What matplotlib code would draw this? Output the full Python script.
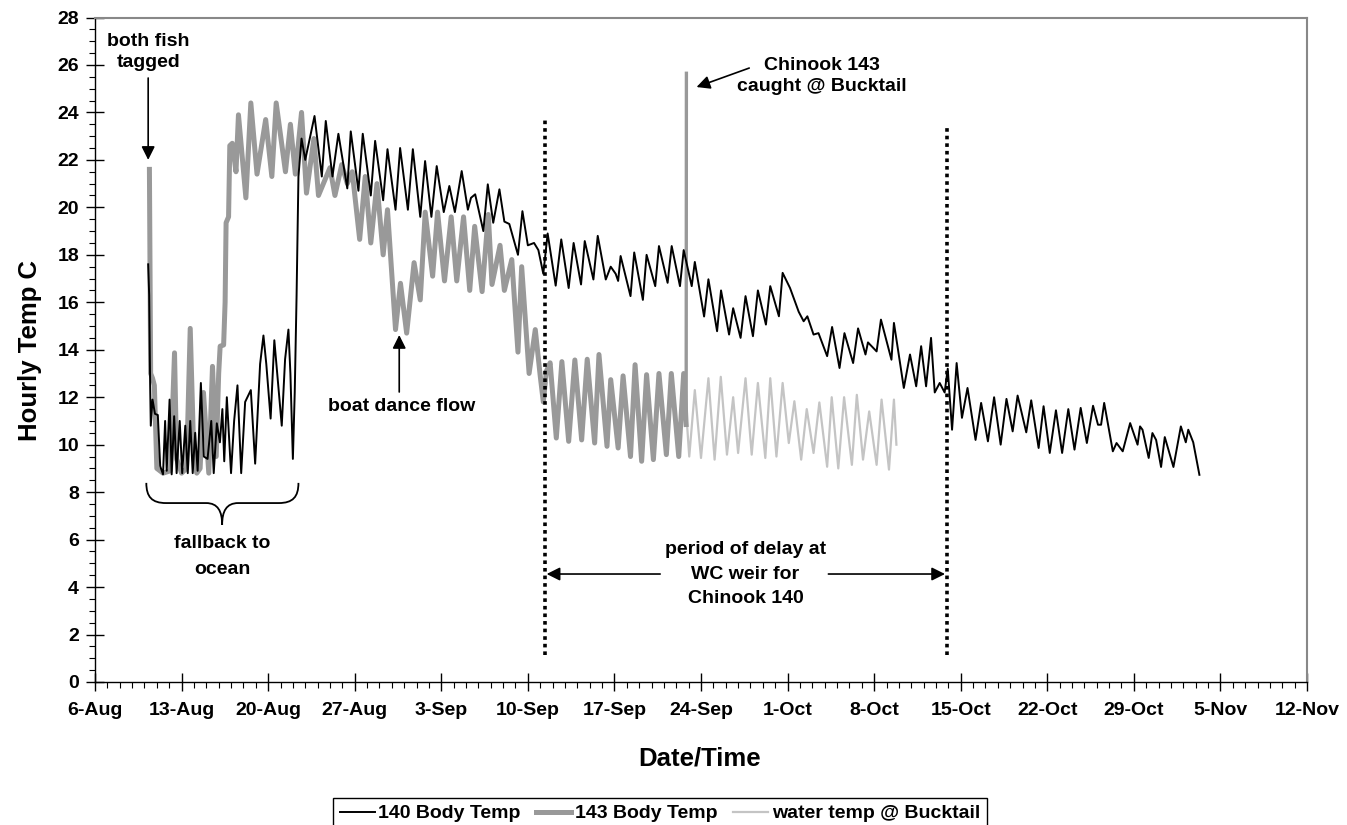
import datetime as dt
import matplotlib
matplotlib.use("Agg")
import matplotlib.pyplot as plt
from matplotlib.path import Path
from matplotlib.patches import PathPatch
from matplotlib.ticker import FixedLocator, MultipleLocator

plt.rcParams['font.family'] = ['Liberation Sans', 'DejaVu Sans']
plt.rcParams['font.weight'] = 'bold'

# ---- data: time in days after 6-Aug 00:00, temperature in deg C ----
start_date = dt.date(2003, 8, 6)

t140 = [4.30, 4.38, 4.46, 4.51, 4.65, 4.85, 5.08, 5.27, 5.50, 5.67, 5.80, 6.03, 6.20, 6.40, 6.60,
        6.85, 7.05, 7.30, 7.50, 7.70, 7.90, 8.10, 8.30, 8.56, 8.80, 9.10, 9.40, 9.60, 9.85, 10.10,
        10.30, 10.45, 10.66, 11.00, 11.25, 11.52, 11.82, 12.14, 12.60, 12.95, 13.35, 13.62, 13.85,
        14.20, 14.50, 14.78, 15.10, 15.37, 15.64, 15.80, 16.00, 16.15, 16.30, 16.45, 16.70, 17.00,
        17.75, 18.34, 18.66, 19.20, 19.68, 20.40, 20.68, 21.30, 21.65, 22.30, 22.65, 23.30, 23.65,
        24.30, 24.67, 25.30, 25.70, 26.30, 26.69, 27.20, 27.63, 28.20, 28.65, 29.10, 29.65, 30.15,
        30.40, 30.74, 31.40, 31.76, 32.20, 32.70, 33.10, 33.50, 34.20, 34.56, 35.00, 35.50, 35.85,
        36.25, 36.60, 37.25, 37.70, 38.30, 38.70, 39.30, 39.60, 40.30, 40.65, 41.30, 41.70, 42.10,
        42.30, 42.50, 43.30, 43.60, 44.30, 44.60, 45.30, 45.60, 46.30, 46.63, 47.30, 47.60, 48.25,
        48.50, 49.25, 49.60, 50.30, 50.62, 51.27, 51.60, 52.20, 52.60, 53.20, 53.60, 54.25, 54.60,
        55.30, 55.60, 56.20, 56.90, 57.30, 57.60, 58.10, 58.50, 59.20, 59.60, 60.20, 60.60, 61.30,
        61.70, 62.30, 62.50, 63.20, 63.55, 64.40, 64.60, 65.40, 65.90, 66.40, 66.80, 67.20, 67.60,
        67.90, 68.30, 68.70, 68.95, 69.30, 69.67, 70.10, 70.55, 71.20, 71.65, 72.20, 72.70, 73.23,
        73.70, 74.20, 74.60, 75.30, 75.70, 76.30, 76.70, 77.20, 77.70, 78.20, 78.70, 79.20, 79.70,
        80.20, 80.70, 81.10, 81.35, 81.60, 82.30, 82.60, 83.10, 83.70, 84.30, 84.50, 84.70, 85.20,
        85.50, 85.80, 86.20, 86.50, 87.20, 87.80, 88.20, 88.40, 88.80, 89.30]
v140 = [17.6, 16.3, 12.5, 10.8, 11.9, 11.3, 11.25, 9.1, 8.75, 11.0, 8.9, 11.9, 8.75, 11.2, 8.8,
        11.0, 8.8, 10.8, 8.8, 11.0, 8.8, 10.5, 8.9, 12.6, 9.5, 9.4, 11.0, 8.8, 10.9, 10.1,
        11.5, 9.3, 12.0, 8.8, 11.0, 12.5, 8.8, 11.8, 12.3, 9.2, 13.4, 14.6, 13.4,
        11.1, 14.4, 12.7, 10.8, 13.6, 14.85, 13.0, 9.4, 12.2, 16.3, 21.3, 22.9, 22.0,
        23.85, 21.3, 23.64, 21.3, 23.1, 20.8, 23.2, 20.7, 23.1, 20.5, 22.8, 20.3, 22.45,
        19.9, 22.5, 19.9, 22.45, 19.6, 21.95, 19.6, 21.74, 19.8, 20.9, 19.8, 21.53, 19.9,
        20.4, 20.55, 19.0, 20.97, 19.35, 20.76, 19.4, 19.3, 18.0, 19.84, 18.4, 18.5, 18.2,
        17.2, 18.9, 16.7, 18.65, 16.6, 18.5, 16.75, 18.58, 16.96, 18.8, 16.96, 17.5, 17.2,
        16.9, 17.95, 16.26, 18.1, 16.1, 18.0, 16.68, 18.37, 16.82, 18.37, 16.68, 18.2, 16.68,
        17.7, 15.4, 16.97, 14.78, 16.5, 14.64, 15.75, 14.5, 16.26, 14.57, 16.5, 15.06, 16.68,
        15.41, 17.24, 16.6, 15.6, 15.2, 15.41, 14.64, 14.7, 13.73, 14.96, 13.23, 14.7, 13.44,
        14.9, 13.8, 14.31, 13.93, 15.27, 13.58, 15.13, 12.39, 13.8, 12.46, 14.15, 12.46, 14.5,
        12.2, 12.6, 12.2, 13.2, 10.63, 13.44, 11.13, 12.39, 10.2, 11.76, 10.14, 12.0, 10.0,
        11.93, 10.56, 12.07, 10.52, 11.87, 9.86, 11.62, 9.65, 11.45, 9.65, 11.5, 9.79, 11.55,
        10.07, 11.64, 10.84, 10.84, 11.76, 9.72, 10.07, 9.72, 10.91, 10.0, 10.77, 10.63, 9.44,
        10.49, 10.2, 9.06, 10.32, 9.06, 10.77, 10.1, 10.63, 10.1, 8.73]

t143 = [4.40, 4.50, 4.65, 4.80, 5.00, 5.50, 6.10, 6.43, 6.60, 7.00, 7.40, 7.70, 8.00, 8.23, 8.50,
        8.77, 9.20, 9.50, 9.80, 10.00, 10.12, 10.40, 10.52, 10.60, 10.80, 10.90, 11.10, 11.40,
        11.60, 12.20, 12.60, 13.10, 13.80, 14.30, 14.65, 15.40, 15.80, 16.20, 16.70, 17.10, 17.70,
        18.07, 19.00, 19.40, 19.95, 20.40, 20.80, 21.40, 21.85, 22.30, 22.80, 23.30, 23.65, 24.30,
        24.70, 25.20, 25.80, 26.30, 26.70, 27.30, 27.70, 28.26, 28.80, 29.25, 29.80, 30.30, 30.70,
        31.30, 31.80, 32.10, 32.75, 33.10, 33.70, 34.20, 34.50, 35.10, 35.60, 36.00, 36.25, 36.50,
        36.80, 37.30, 37.75, 38.30, 38.80, 39.35, 39.80, 40.40, 40.75, 41.40, 41.70, 42.30, 42.70,
        43.30, 43.67, 44.20, 44.60, 45.15, 45.60, 46.20, 46.60, 47.20, 47.60, 47.80]
v143 = [21.6, 13.0, 12.8, 12.5, 9.0, 8.8, 8.9, 13.87, 9.4, 8.8, 9.0, 14.9, 9.4, 8.8, 9.0,
        12.2, 8.8, 13.3, 9.5, 13.0, 14.15, 14.2, 16.0, 19.35, 19.6, 22.6, 22.7, 21.5,
        23.9, 20.4, 24.4, 21.4, 23.7, 21.3, 24.4, 21.5, 23.5, 21.4, 24.0, 20.6, 22.9,
        20.5, 21.67, 20.5, 21.8, 21.0, 21.5, 18.65, 21.3, 18.5, 21.0, 18.0, 19.9, 14.85,
        16.8, 14.7, 17.67, 16.1, 19.8, 17.1, 19.8, 16.9, 19.6, 16.9, 19.6, 16.5, 19.2,
        16.45, 19.7, 16.75, 18.4, 16.5, 17.8, 13.9, 17.5, 13.0, 14.85, 12.9, 11.8, 13.1,
        13.45, 10.28, 13.5, 10.14, 13.57, 10.2, 13.6, 10.07, 13.8, 9.93, 12.74, 9.86, 12.9,
        9.5, 13.37, 9.3, 12.95, 9.37, 13.0, 9.58, 13.0, 9.5, 13.0, 10.85]

catch_t = 47.82   # Chinook 143 caught @ Bucktail
catch_v = 25.65

tw = [43.30, 43.67, 44.20, 44.60, 45.15, 45.60, 46.20, 46.60, 47.20, 47.60, 48.05, 48.50, 49.00,
      49.60, 50.10, 50.60, 51.10, 51.60, 52.00, 52.60, 53.10, 53.60, 54.20, 54.60, 55.10, 55.60,
      56.10, 56.55, 57.10, 57.55, 58.10, 58.57, 59.20, 59.57, 60.10, 60.57, 61.20, 61.60, 62.10,
      62.60, 63.20, 63.60, 64.20, 64.60, 64.80]
vw = [9.6, 12.9, 9.4, 12.8, 9.45, 12.9, 9.6, 12.9, 9.55, 12.9, 9.5, 12.3, 9.44,
      12.8, 9.37, 12.86, 9.58, 12.0, 9.65, 12.8, 9.58, 12.6, 9.44, 12.8, 9.5, 12.6,
      10.07, 11.83, 9.37, 11.5, 9.65, 11.78, 9.07, 12.0, 9.0, 12.0, 9.15, 12.1, 9.37,
      11.4, 9.15, 11.9, 8.95, 11.9, 10.0]

delay_start = 36.42   # WC weir delay period for Chinook 140
delay_end = 68.88

x_tick_days = list(range(0, 99, 7))
x_tick_labels = [f"{(start_date + dt.timedelta(days=d)).day}-{(start_date + dt.timedelta(days=d)).strftime('%b')}"
                 for d in x_tick_days]
y_ticks = list(range(0, 29, 2))

# ---- figure ----
fig = plt.figure(figsize=(13.47, 8.25), dpi=100)
ax = fig.add_axes([95 / 1347, 1 - 682 / 825, 1212 / 1347, (682 - 17.5) / 825])

l140, = ax.plot(t140, v140, color='black', lw=1.4, label='140 Body Temp', zorder=4,
                solid_joinstyle='round')
l143, = ax.plot(t143, v143, color='#999999', lw=3.6, label='143 Body Temp', zorder=3,
                solid_joinstyle='round')
ax.plot([t143[-1], catch_t], [v143[-1], catch_v], color='#999999', lw=2.4, zorder=3)
lw_, = ax.plot(tw, vw, color='#c4c4c4', lw=1.6, label='water temp @ Bucktail', zorder=2,
               solid_joinstyle='round')

for xd, ytop in ((delay_start, 23.7), (delay_end, 23.4)):
    ax.plot([xd, xd], [1.15, ytop], color='black', lw=2.6, linestyle=(0, (1, 1.1)),
            dash_capstyle='butt', zorder=5)

ax.set_xlim(0, 98)
ax.set_ylim(0, 28)
ax.xaxis.set_major_locator(FixedLocator(x_tick_days))
ax.set_xticklabels(x_tick_labels)
ax.xaxis.set_minor_locator(MultipleLocator(1))
ax.set_yticks(y_ticks)
ax.yaxis.set_minor_locator(MultipleLocator(0.5))

ax.tick_params(axis='both', which='major', direction='inout', length=13, width=1.0,
               labelsize=14, colors='black')
ax.tick_params(axis='both', which='minor', direction='out', length=4.5, width=0.8)
ax.tick_params(axis='x', which='major', pad=8)
ax.tick_params(axis='y', which='major', pad=5)
for lab in ax.get_xticklabels() + ax.get_yticklabels():
    lab.set_fontweight('bold')

for s in ('left', 'bottom'):
    ax.spines[s].set_color('black')
    ax.spines[s].set_linewidth(1.0)
for s in ('top', 'right'):
    ax.spines[s].set_color('#888888')
    ax.spines[s].set_linewidth(1.5)

fig.text(30 / 1347, 1 - 350 / 825, 'Hourly Temp C', rotation=90, ha='center', va='center',
         fontsize=18.5, fontweight='bold')
fig.text(700 / 1347, 1 - 758 / 825, 'Date/Time', ha='center', va='center',
         fontsize=18.5, fontweight='bold')

# ---- annotations ----
arrow = dict(arrowstyle='-|>', color='black', lw=1.2, mutation_scale=20, shrinkA=0, shrinkB=0)
txt = dict(ha='center', va='center', fontsize=14, fontweight='bold')

ax.text(4.3, 26.53, 'both fish\ntagged', linespacing=1.3, **txt)
ax.annotate('', xy=(4.3, 22.0), xytext=(4.3, 25.45), arrowprops=arrow)

ax.text(58.8, 25.54, 'Chinook 143\ncaught @ Bucktail', linespacing=1.25, **txt)
ax.annotate('', xy=(48.64, 25.07), xytext=(52.9, 25.87), arrowprops=arrow)

ax.text(24.8, 11.6, 'boat dance flow', **txt)
ax.annotate('', xy=(24.6, 14.62), xytext=(24.6, 12.22), arrowprops=arrow)

ax.text(10.28, 5.3, 'fallback to\nocean', linespacing=1.7, **txt)
ax.text(52.6, 4.55, 'period of delay at\nWC weir for\nChinook 140', linespacing=1.57, **txt)
ax.annotate('', xy=(delay_start + 0.1, 4.55), xytext=(45.7, 4.55), arrowprops=arrow)
ax.annotate('', xy=(delay_end - 0.15, 4.55), xytext=(59.3, 4.55), arrowprops=arrow)

# curly brace under the fallback period
bl, br, bm = 4.15, 16.45, 10.28
ytop, ymid, ytip = 8.39, 7.54, 6.62
verts = [(bl, ytop), (bl, 7.8), (bl + 0.45, ymid), (bl + 1.6, ymid),
         (bm - 1.3, ymid),
         (bm - 0.35, ymid), (bm, 7.2), (bm, ytip),
         (bm, ytip),
         (bm, 7.2), (bm + 0.35, ymid), (bm + 1.3, ymid),
         (br - 1.6, ymid),
         (br - 0.45, ymid), (br, 7.8), (br, ytop)]
codes = [Path.MOVETO, Path.CURVE4, Path.CURVE4, Path.CURVE4,
         Path.LINETO,
         Path.CURVE4, Path.CURVE4, Path.CURVE4,
         Path.MOVETO, Path.CURVE4, Path.CURVE4, Path.CURVE4,
         Path.LINETO,
         Path.CURVE4, Path.CURVE4, Path.CURVE4]
ax.add_patch(PathPatch(Path(verts, codes), fill=False, lw=1.3, edgecolor='black'))

leg = fig.legend(handles=[l140, l143, lw_], labels=['140 Body Temp', '143 Body Temp', 'water temp @ Bucktail'],
                 loc='upper center', bbox_to_anchor=(0.49, 1 - 798 / 825), ncol=3,
                 frameon=True, fancybox=False, edgecolor='black', framealpha=1,
                 prop={'weight': 'bold', 'size': 14}, handlelength=1.8, handletextpad=0.2,
                 columnspacing=0.8, borderpad=0.35, borderaxespad=0)
leg.get_frame().set_linewidth(1.0)

fig.savefig('out.png', dpi=100)
